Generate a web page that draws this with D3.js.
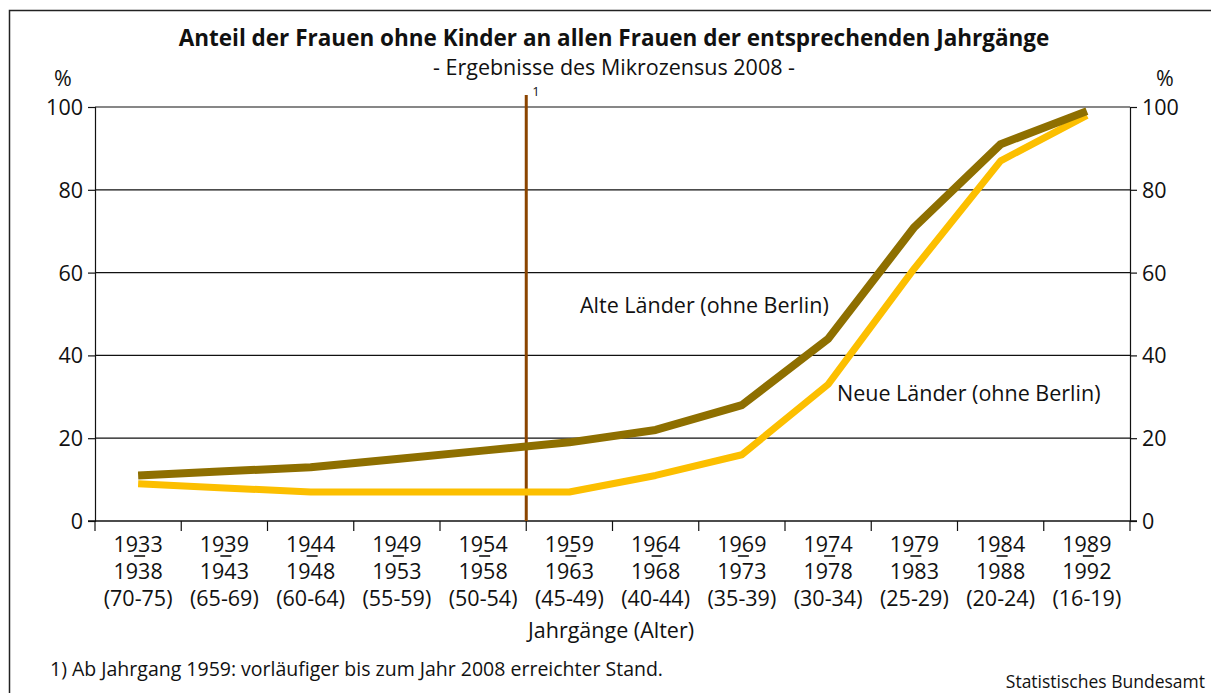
<!DOCTYPE html>
<html lang="de">
<head>
<meta charset="UTF-8">
<title>Frauen ohne Kinder</title>
<script src="https://d3js.org/d3.v7.min.js"></script>
<style>
  body, html { margin: 0; padding: 0; overflow: hidden; background: #fff; }
  svg { display: block; }
  text { font-family: "Open Sans", "Noto Sans", sans-serif; fill: #111; }
</style>
</head>
<body>
<svg width="1211" height="693"></svg>
<script>
// Jahrgänge (from, to, Alter)
const yearsFrom = ["1933", "1939", "1944", "1949", "1954", "1959", "1964", "1969", "1974", "1979", "1984", "1989"];
const yearsTo = ["1938", "1943", "1948", "1953", "1958", "1963", "1968", "1973", "1978", "1983", "1988", "1992"];
const ages = ["(70-75)", "(65-69)", "(60-64)", "(55-59)", "(50-54)", "(45-49)", "(40-44)", "(35-39)", "(30-34)", "(25-29)", "(20-24)", "(16-19)"];

// Anteil in %
const alteLaender = [11, 12, 13, 15, 17, 19, 22, 28, 44, 71, 91, 99];
const neueLaender = [9, 8, 7, 7, 7, 7, 11, 16, 33, 61, 87, 98];

const yTicks = [0, 20, 40, 60, 80, 100];

const svg = d3.select('svg');
const plotLeft = 95, plotRight = 1130, plotTop = 107, plotBottom = 521;

const x = d3.scaleBand().domain(yearsFrom).range([plotLeft, plotRight]);
const y = d3.scaleLinear().domain([0, 100]).range([plotBottom, plotTop]);

// frame
svg.append('path')
  .attr('d', 'M9.5,700 V10.5 H1211')
  .attr('fill', 'none').attr('stroke', '#222').attr('stroke-width', 1.5);

// title
svg.append('text').attr('x', 614).attr('y', 46).attr('text-anchor', 'middle')
  .style('font-size', '22.5px').style('font-weight', 'bold')
  .text('Anteil der Frauen ohne Kinder an allen Frauen der entsprechenden Jahrgänge');
svg.append('text').attr('x', 614).attr('y', 75).attr('text-anchor', 'middle')
  .style('font-size', '21.5px')
  .text('- Ergebnisse des Mikrozensus 2008 -');

// grid lines
svg.append('g').selectAll('line').data(yTicks.filter(d => d > 0)).enter().append('line')
  .attr('x1', plotLeft).attr('x2', plotRight)
  .attr('y1', d => y(d)).attr('y2', d => y(d))
  .attr('stroke', '#111').attr('stroke-width', 1.2);

// axes
const axisL = svg.append('g').attr('transform', `translate(${plotLeft},0)`)
  .call(d3.axisLeft(y).tickValues(yTicks).tickSize(7).tickPadding(5));
const axisR = svg.append('g').attr('transform', `translate(${plotRight},0)`)
  .call(d3.axisRight(y).tickValues(yTicks).tickSize(7).tickPadding(5));
[axisL, axisR].forEach(a => {
  a.select('.domain').attr('stroke', '#111').attr('stroke-width', 1.2);
  a.selectAll('.tick line').attr('stroke', '#111').attr('stroke-width', 1.2);
  a.selectAll('.tick text').style('font-size', '21.5px').attr('font-family', null).attr('dy', '0.35em');
});

svg.append('text').attr('x', 63).attr('y', 86).attr('text-anchor', 'middle')
  .style('font-size', '21.5px').text('%');
svg.append('text').attr('x', 1165).attr('y', 86).attr('text-anchor', 'middle')
  .style('font-size', '21.5px').text('%');

// x axis
svg.append('line').attr('x1', plotLeft - 7).attr('x2', plotRight + 7)
  .attr('y1', plotBottom).attr('y2', plotBottom).attr('stroke', '#111').attr('stroke-width', 1.5);
const bounds = yearsFrom.map(d => x(d)).concat([plotRight]);
svg.append('g').selectAll('line').data(bounds).enter().append('line')
  .attr('x1', d => d).attr('x2', d => d)
  .attr('y1', plotBottom).attr('y2', plotBottom + 10)
  .attr('stroke', '#111').attr('stroke-width', 1.2);

const labels = svg.append('g').selectAll('g').data(yearsFrom).enter().append('g')
  .attr('transform', d => `translate(${x(d) + x.bandwidth() / 2},0)`);
labels.append('text').attr('y', 552).attr('text-anchor', 'middle').style('font-size', '21.5px').text(d => d);
labels.append('text').attr('y', 579).attr('text-anchor', 'middle').style('font-size', '21.5px').text((d, i) => yearsTo[i]);
labels.append('text').attr('y', 606).attr('text-anchor', 'middle').style('font-size', '21.5px').text((d, i) => ages[i]);
labels.append('line').attr('x1', -4).attr('x2', 7).attr('y1', 556).attr('y2', 556)
  .attr('stroke', '#111').attr('stroke-width', 1.6);

svg.append('text').attr('x', 611).attr('y', 638).attr('text-anchor', 'middle')
  .style('font-size', '21.5px').text('Jahrgänge (Alter)');

// vertical marker (footnote 1)
svg.append('line').attr('x1', x('1959')).attr('x2', x('1959'))
  .attr('y1', 95).attr('y2', plotBottom)
  .attr('stroke', '#8b4500').attr('stroke-width', 3);
svg.append('text').attr('x', x('1959') + 6).attr('y', 96)
  .style('font-size', '13px').text('1');

// lines
const line = d3.line()
  .x((d, i) => x(yearsFrom[i]) + x.bandwidth() / 2)
  .y(d => y(d));

svg.append('path').datum(neueLaender)
  .attr('d', line).attr('fill', 'none')
  .attr('stroke', '#fcbf00').attr('stroke-width', 7).attr('stroke-linejoin', 'round');
svg.append('path').datum(alteLaender)
  .attr('d', line).attr('fill', 'none')
  .attr('stroke', '#8e6f00').attr('stroke-width', 8).attr('stroke-linejoin', 'round');

svg.append('text').attr('x', 580).attr('y', 313).style('font-size', '21.5px').text('Alte Länder (ohne Berlin)');
svg.append('text').attr('x', 837).attr('y', 401).style('font-size', '21.5px').text('Neue Länder (ohne Berlin)');

// footer
svg.append('text').attr('x', 50).attr('y', 676).style('font-size', '19.5px')
  .text('1) Ab Jahrgang 1959: vorläufiger bis zum Jahr 2008 erreichter Stand.');
svg.append('text').attr('x', 1205).attr('y', 688).attr('text-anchor', 'end').style('font-size', '17.5px')
  .text('Statistisches Bundesamt');
</script>
</body>
</html>
